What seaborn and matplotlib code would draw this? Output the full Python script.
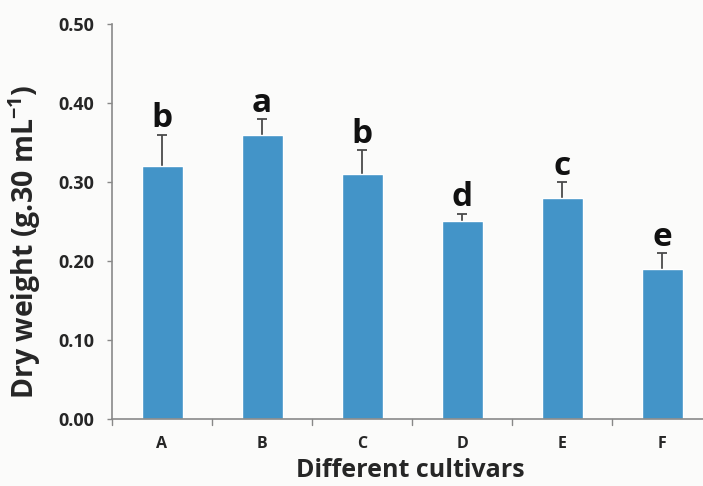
import matplotlib
matplotlib.use("Agg")
import matplotlib.pyplot as plt
import seaborn as sns
import pandas as pd
import numpy as np

cultivars = ["A", "B", "C", "D", "E", "F"]
dry_weight = [0.32, 0.36, 0.31, 0.25, 0.28, 0.19]
std_err = [0.04, 0.02, 0.03, 0.01, 0.02, 0.02]
letters = ["b", "a", "b", "d", "c", "e"]
y_ticks = [0.00, 0.10, 0.20, 0.30, 0.40, 0.50]

sns.set_theme(style="white")
plt.rcParams["font.family"] = ["Open Sans", "DejaVu Sans"]
plt.rcParams["mathtext.fontset"] = "custom"
plt.rcParams["mathtext.rm"] = "Open Sans"
plt.rcParams["mathtext.bf"] = "Open Sans:bold"
plt.rcParams["mathtext.default"] = "bf"

df = pd.DataFrame({"cultivar": cultivars, "weight": dry_weight})

bg = "#fbfbfa"
fig = plt.figure(figsize=(7.03, 4.86), dpi=100, facecolor=bg)
# the category axis runs a little past the right edge of the canvas
ax = fig.add_axes([112/703, 1 - 419/486, 600/703, (419 - 24)/486])
ax.set_facecolor(bg)

bar_color = "#4394c8"
x = np.arange(len(cultivars))

# symmetric error bars drawn beneath the bars so only the upper half shows
ax.errorbar(x, dry_weight, yerr=std_err, fmt="none",
            ecolor="#4a4a4a", elinewidth=1.3, capsize=3.5, capthick=1.3, zorder=1)
sns.barplot(data=df, x="cultivar", y="weight", color=bar_color, width=0.41,
            saturation=1, errorbar=None, ax=ax, zorder=2)

for xi, v, e, lab in zip(x, dry_weight, std_err, letters):
    ax.text(xi, v + e + 0.009, lab, ha="center", va="baseline",
            fontsize=24, fontweight="bold", color="#111111", zorder=4)

ax.set_ylim(0, 0.5)
ax.set_xlim(-0.5, len(cultivars) - 0.5)
ax.set_yticks(y_ticks)
ax.set_yticklabels([f"{t:.2f}" for t in y_ticks], fontsize=13, fontweight="bold")
ax.set_xticks(x)
ax.set_xticklabels(cultivars, fontsize=11.5, fontweight="bold")
ax.tick_params(axis="x", length=0, pad=12)
ax.tick_params(axis="y", length=3.6, width=1, color="#888888", direction="out",
               pad=9, left=True)

# boundary ticks between categories on the x axis
for b in np.arange(-0.5, len(cultivars) + 0.5, 1.0):
    ax.plot([b, b], [0, -0.007], color="#888888", lw=1, clip_on=False, zorder=4)

for s in ["top", "right"]:
    ax.spines[s].set_visible(False)
for s in ["left", "bottom"]:
    ax.spines[s].set_color("#8a8a8a")
    ax.spines[s].set_linewidth(1.2)

ax.set_xlabel("Different cultivars", fontsize=18, fontweight="bold")
ax.xaxis.set_label_coords((410 - 112)/600, -(458 - 419)/395, transform=ax.transAxes)
ax.xaxis.label.set_va("top")
ax.set_ylabel("Dry weight (g.30 mL$^{-1}$)", fontsize=20.5, fontweight="bold")
ax.yaxis.set_label_coords(-(112 - 25)/600, (419 - 242)/395, transform=ax.transAxes)
ax.yaxis.label.set_va("center")

fig.savefig("out.png", dpi=100, facecolor=bg)
